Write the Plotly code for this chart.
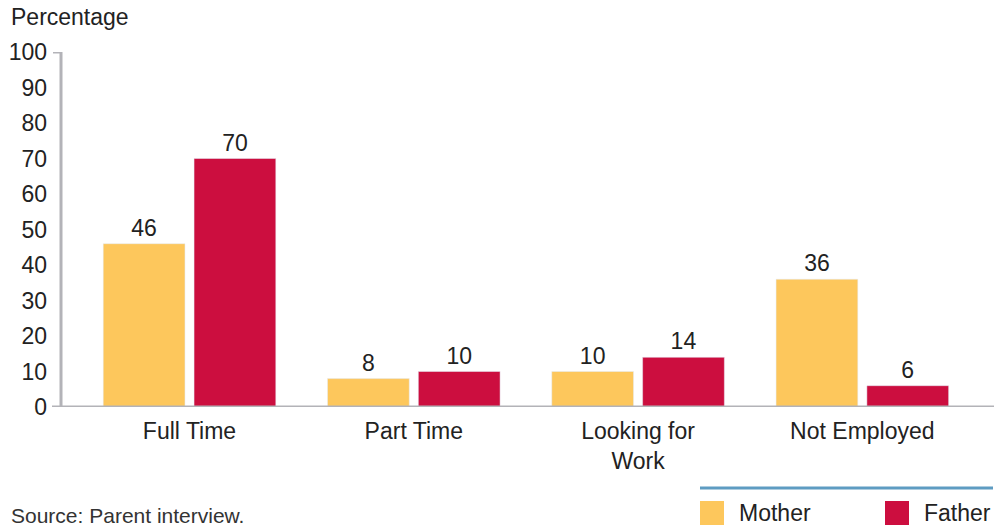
import plotly.graph_objects as go

categories = ["Full Time", "Part Time", "Looking for<br>Work", "Not Employed"]
mother = [46, 8, 10, 36]
father = [70, 10, 14, 6]
y_ticks = [0, 10, 20, 30, 40, 50, 60, 70, 80, 90, 100]

font = "Liberation Sans, Arial, sans-serif"
axis_grey = "#B3B3B8"
yellow = "#FDC75C"
red = "#CC0E3F"
txt = "#222"

fig = go.Figure()
fig.add_trace(go.Bar(x=categories, y=mother, name="Mother", marker_color=yellow,
                     text=mother, textposition="outside", cliponaxis=False,
                     textfont=dict(size=23, color=txt), showlegend=False))
fig.add_trace(go.Bar(x=categories, y=father, name="Father", marker_color=red,
                     text=father, textposition="outside", cliponaxis=False,
                     textfont=dict(size=23, color=txt), showlegend=False))

# page body has an 8px margin, so work in reference pixels minus 8
OFF = 8
W, H = 1006 - OFF, 529 - OFF
L, R, T, B = 61 - OFF, 12, 52 - OFF, 122
pw = W - L - R
ph = H - T - B


def px(x):
    return (x - OFF - L) / pw


def py(y):
    return 1 - (y - OFF - T) / ph


shapes = [
    # axis lines
    dict(type="line", xref="paper", yref="y", x0=px(52), x1=1, y0=0, y1=0,
         line=dict(color=axis_grey, width=3)),
    dict(type="line", xref="paper", yref="y", x0=0, x1=0, y0=0, y1=100,
         line=dict(color=axis_grey, width=3)),
    dict(type="line", xref="paper", yref="y", x0=px(53), x1=0, y0=100, y1=100,
         line=dict(color=axis_grey, width=3)),
    # legend rule
    dict(type="line", xref="paper", yref="paper", x0=px(700), x1=px(993),
         y0=py(488), y1=py(488), line=dict(color="#5E9CC2", width=3)),
]

annotations = [
    dict(text="Percentage", xref="paper", yref="paper", x=px(9), y=py(17),
         xanchor="left", yanchor="middle", showarrow=False, font=dict(size=23, color=txt)),
    dict(text="Source: Parent interview.", xref="paper", yref="paper", x=px(9), y=py(515),
         xanchor="left", yanchor="middle", showarrow=False, font=dict(size=21, color="#333")),
]

legend_items = [("Mother", yellow, 700), ("Father", red, 885)]
for name, color, x_px in legend_items:
    shapes.append(dict(type="rect", xref="paper", yref="paper", line_width=0, fillcolor=color,
                       x0=px(x_px), x1=px(x_px + 24), y0=py(525), y1=py(501)))
    annotations.append(dict(text=name, xref="paper", yref="paper", x=px(x_px + 37), y=py(513),
                            xanchor="left", yanchor="middle", showarrow=False,
                            font=dict(size=23, color=txt)))

fig.update_layout(
    width=W, height=H,
    margin=dict(l=L, r=R, t=T, b=B, autoexpand=False),
    plot_bgcolor="white", paper_bgcolor="white",
    font=dict(family=font, size=23, color=txt),
    barmode="group", bargap=0.19, bargroupgap=0.1,
    shapes=shapes, annotations=annotations,
    xaxis=dict(range=[-0.573, 3.587], showline=False, showgrid=False, ticks="",
               ticklabelstandoff=8, tickfont=dict(size=23), automargin=False),
    yaxis=dict(range=[0, 100], tickvals=y_ticks, showline=False, showgrid=False,
               zeroline=False, ticks="", ticklabelstandoff=13, tickfont=dict(size=23),
               automargin=False),
)

fig.write_html("out.html")
